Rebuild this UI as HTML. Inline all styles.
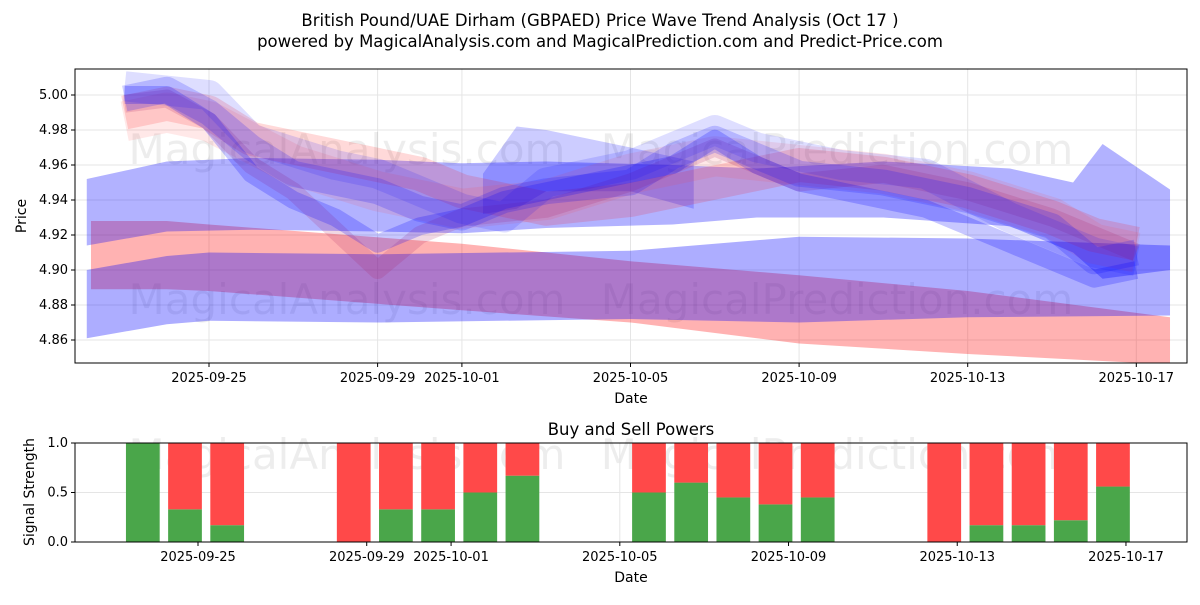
<!DOCTYPE html>
<html><head><meta charset="utf-8"><style>
body{margin:0;background:#fff;font-family:"Liberation Sans","DejaVu Sans",sans-serif}
svg text{font-family:"DejaVu Sans","Liberation Sans",sans-serif}
</style></head><body>
<svg id="c" width="1200" height="600" xmlns="http://www.w3.org/2000/svg">
<rect width="1200" height="600" fill="#fff"/>
<text x="600" y="26" text-anchor="middle" font-size="16.5">British Pound/UAE Dirham (GBPAED) Price Wave Trend Analysis (Oct 17 )</text>
<text x="600" y="47" text-anchor="middle" font-size="16.5">powered by MagicalAnalysis.com and MagicalPrediction.com and Predict-Price.com</text>
<g id="main"></g>
<g id="sub"></g>
</svg>
<script>
const dateLabels=["2025-09-25","2025-09-29","2025-10-01","2025-10-05","2025-10-09","2025-10-13","2025-10-17"];
const dateDays=[0,4,6,10,14,18,22];
const priceTicks=[4.86,4.88,4.90,4.92,4.94,4.96,4.98,5.00];
const redLowDays=[-2.8,-1,0,6,10,14,18,22.8];
const redLowTop=[4.928,4.928,4.926,4.915,4.905,4.897,4.888,4.873];
const redLowBot=[4.889,4.889,4.888,4.877,4.870,4.858,4.852,4.846];
const blueLowDays=[-2.9,-1,0,4,10,14,18,22.8];
const blueLowTop=[4.900,4.908,4.910,4.909,4.911,4.919,4.918,4.914];
const blueLowBot=[4.861,4.869,4.871,4.870,4.872,4.870,4.873,4.874];
const blueUpDays=[-2.9,-1,1,4,6,8,11,13,16,19,20.5,21.2,22.8];
const blueUpTop=[4.952,4.962,4.964,4.963,4.961,4.962,4.960,4.958,4.962,4.958,4.95,4.972,4.946];
const blueUpBot=[4.914,4.922,4.923,4.922,4.921,4.924,4.926,4.930,4.930,4.925,4.91,4.895,4.90];
const bumpDays=[6.5,7.3,8,10,11.5];
const bumpTop=[4.955,4.982,4.980,4.970,4.962];
const bumpBot=[4.932,4.935,4.945,4.945,4.935];
const lineADays=[-2,-1,0,1,2,4,5,6,7,8,10,11,12,13,14,16,18,20,21,22];
const lineAVals=[4.998,5.003,4.99,4.97,4.955,4.945,4.935,4.93,4.94,4.945,4.95,4.965,4.975,4.965,4.955,4.95,4.94,4.925,4.905,4.91];
const lineBDays=[-2,-1,0,1,3,5,6,8,10,12,14,16,18,20,21,22];
const lineBVals=[4.99,4.995,4.99,4.975,4.965,4.955,4.945,4.935,4.94,4.95,4.96,4.955,4.945,4.93,4.92,4.915];
const lineCDays=[-2,-1,0,1,2,3,4,5,6,7,8,9,10,11,12,13,14,15,16,17,18,19,20,21,22];
const lineCVals=[5.0,5.0,4.985,4.955,4.94,4.93,4.915,4.925,4.93,4.94,4.945,4.95,4.955,4.96,4.975,4.96,4.95,4.945,4.94,4.935,4.925,4.915,4.905,4.895,4.9];
const lineDDays=[-2,-1,0,1,2,4,5,6,8,10,11,12,14,16,18,20,21,22];
const lineDVals=[4.995,4.998,4.985,4.96,4.945,4.9,4.92,4.93,4.935,4.95,4.96,4.97,4.95,4.955,4.945,4.93,4.92,4.91];
const lineEDays=[-2,0,1,3,4,6,7,8,10,12,13,15,17,19,21,22];
const lineEVals=[5.005,5.0,4.975,4.96,4.955,4.935,4.93,4.95,4.96,4.98,4.97,4.96,4.955,4.93,4.91,4.905];
const lineFDays=[-2,-1,0,2,4,6,8,10,12,14,16,18,20,21,22];
const lineFVals=[4.985,4.99,4.985,4.96,4.945,4.935,4.94,4.955,4.965,4.96,4.955,4.945,4.93,4.915,4.91];
const barDays=[-1,0,1,4,5,6,7,8,11,12,13,14,15,18,19,20,21,22];
const buyVals=[1.0,0.33,0.17,0,0.33,0.33,0.5,0.67,0.5,0.6,0.45,0.38,0.45,0,0.17,0.17,0.22,0.56];
const sigTicks=[0,0.5,1.0];

const NS="http://www.w3.org/2000/svg";
const L=75,R=1187,T1=69,B1=363,T2=443,B2=542;
const xd=d=>209+d*42.15;
const xb=d=>198+d*42.18;
const yp=v=>95+(5.0-v)/0.02*35;
const ys=v=>B2-v*(B2-T2);
function mk(p,tag,a){const e=document.createElementNS(NS,tag);for(const k in a)e.setAttribute(k,a[k]);p.appendChild(e);return e;}
const main=document.getElementById('main'),sub=document.getElementById('sub');

for(const v of priceTicks){const g=mk(main,'line',{x1:L,x2:R,y1:yp(v),y2:yp(v),stroke:'#e5e5e5'});

}
for(const d of dateDays){mk(main,'line',{x1:xd(d),x2:xd(d),y1:T1,y2:B1,stroke:'#e5e5e5'});mk(sub,'line',{x1:xb(d),x2:xb(d),y1:T2,y2:B2,stroke:'#e5e5e5'});}
for(const v of sigTicks){mk(sub,'line',{x1:L,x2:R,y1:ys(v),y2:ys(v),stroke:'#e5e5e5'});}

for(const [x,y] of [[347,150],[837,150],[347,300],[837,300],[347,455],[837,455]]){
const t=mk(main,'text',{x:x,y:y+14,'text-anchor':'middle','font-size':42,fill:'#000','fill-opacity':0.07});
t.textContent=x<600?'MagicalAnalysis.com':'MagicalPrediction.com';

}

const clip=mk(main,'clipPath',{id:'cp'});mk(clip,'rect',{x:L,y:T1,width:R-L,height:B1-T1});
const plot=mk(main,'g',{'clip-path':'url(#cp)'});
function band(days,top,bot,col,op,name){
let pts=days.map((d,i)=>xd(d)+','+yp(top[i]));
for(let i=days.length-1;i>=0;i--)pts.push(xd(days[i])+','+yp(bot[i]));
const p=mk(plot,'polygon',{points:pts.join(' '),fill:col,'fill-opacity':op,'stroke-linejoin':'round'});

}
band(redLowDays,redLowTop,redLowBot,'#ff0000',0.3,'red-lower-band');
band(blueLowDays,blueLowTop,blueLowBot,'#0000ff',0.32,'blue-lower-band');
band(blueUpDays,blueUpTop,blueUpBot,'#0000ff',0.3,'blue-upper-band');
band(bumpDays,bumpTop,bumpBot,'#0000ff',0.2,'blue-bump-band');
function wave(days,vals,col,op,w,name){
const p=mk(plot,'polyline',{points:days.map((d,i)=>xd(d)+','+yp(vals[i])).join(' '),fill:'none',stroke:col,'stroke-opacity':op,'stroke-width':w,'stroke-linejoin':'round'});

}
wave(lineBDays,lineBVals,'#ff0000',0.15,34,'wave-red-1');
wave(lineFDays,lineFVals,'#ff4444',0.12,40,'wave-red-3');
wave(lineDDays,lineDVals,'#aa2266',0.18,18,'wave-red-2');
wave(lineADays,lineAVals,'#0000ff',0.18,26,'wave-blue-1');
wave(lineCDays,lineCVals,'#0000ff',0.22,18,'wave-blue-2');
wave(lineEDays,lineEVals,'#0000ff',0.13,30,'wave-blue-3');

const bw=0.8*42.18;
barDays.forEach((d,i)=>{
const x=xb(d)-13-bw/2;
const g=mk(sub,'rect',{x:x,y:ys(buyVals[i]),width:bw,height:ys(0)-ys(buyVals[i]),fill:'#4aa64a'});


const r=mk(sub,'rect',{x:x,y:ys(1),width:bw,height:ys(buyVals[i])-ys(1),fill:'#ff4949'});

});

mk(main,'rect',{x:L,y:T1,width:R-L,height:B1-T1,fill:'none',stroke:'#000'});
mk(sub,'rect',{x:L,y:T2,width:R-L,height:B2-T2,fill:'none',stroke:'#000'});
dateDays.forEach((d,i)=>{
for(const [g,b,f] of [[main,B1,xd],[sub,B2,xb]]){
mk(g,'line',{x1:f(d),x2:f(d),y1:b,y2:b+4,stroke:'#000'});
const t=mk(g,'text',{x:f(d),y:b+19,'text-anchor':'middle','font-size':13});t.textContent=dateLabels[i];

}});
for(const v of priceTicks){mk(main,'line',{x1:L-4,x2:L,y1:yp(v),y2:yp(v),stroke:'#000'});
const t=mk(main,'text',{x:L-7,y:yp(v)+4,'text-anchor':'end','font-size':13});t.textContent=v.toFixed(2);

}
for(const v of sigTicks){mk(sub,'line',{x1:L-4,x2:L,y1:ys(v),y2:ys(v),stroke:'#000'});
const t=mk(sub,'text',{x:L-7,y:ys(v)+4,'text-anchor':'end','font-size':13});t.textContent=v.toFixed(1);

}
function lab(g,txt,x,y,rot,size,name){const t=mk(g,'text',{x:x,y:y,'text-anchor':'middle','font-size':size||13});if(rot)t.setAttribute('transform','rotate(-90 '+x+' '+y+')');t.textContent=txt;

}
lab(main,'Date',631,403,false,14,'x-axis-title');
lab(main,'Price',26,216,true,14,'y-axis-title');
lab(sub,'Date',631,582,false,14,'x-axis-title-signal');
lab(sub,'Signal Strength',34,492,true,14,'y-axis-title-signal');
lab(sub,'Buy and Sell Powers',631,435,false,16.5,'signal-panel-title');
</script>
</body></html>
